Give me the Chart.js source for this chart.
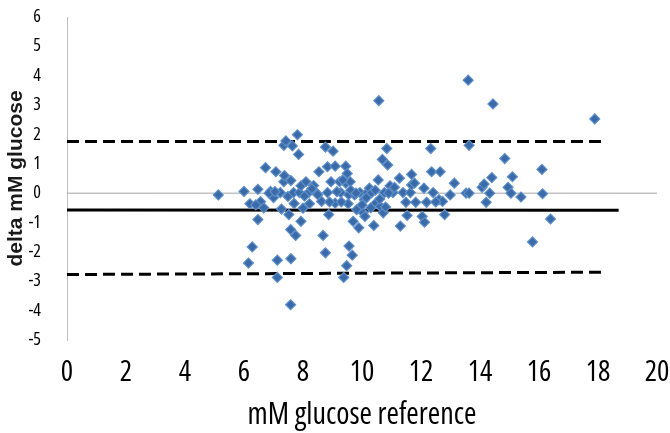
<!DOCTYPE html>
<html>
<head>
<meta charset="utf-8">
<script src="https://cdn.jsdelivr.net/npm/chart.js@4"></script>
<style>
  html, body { margin: 0; padding: 0; background: #fff; }
  #wrap { width: 670px; height: 433px; }
</style>
</head>
<body>
<div id="wrap"><canvas id="c" width="670" height="433"></canvas></div>
<script>
// Reference glucose (mM) and delta (mM)
const refGlucose = [5.13,6.0,6.15,6.28,6.2,6.47,6.47,6.56,6.67,6.73,6.9,7.0,7.08,7.13,7.13,7.23,7.27,7.35,7.37,7.35,7.42,7.49,7.52,7.58,7.59,7.59,7.58,7.64,7.68,7.75,7.81,7.85,7.88,7.93,7.93,8.0,8.1,8.19,8.22,8.36,8.44,8.54,8.63,8.68,8.76,8.76,8.83,8.83,8.87,8.95,9.02,9.09,9.09,9.24,9.28,9.38,9.45,9.45,9.48,9.5,9.53,9.56,9.6,9.67,9.7,9.75,9.82,9.89,9.93,10.04,10.08,10.1,10.18,10.25,10.33,10.4,10.47,10.55,10.57,10.62,10.69,10.72,10.76,10.8,10.84,10.87,10.95,11.05,11.27,11.3,11.39,11.49,11.53,11.64,11.68,11.68,11.78,11.82,12.04,12.1,12.12,12.19,12.33,12.36,12.41,12.61,12.65,12.73,12.8,12.99,13.13,13.53,13.6,13.63,13.63,14.07,14.14,14.21,14.33,14.4,14.44,14.84,14.95,15.05,15.1,15.39,15.78,16.1,16.12,16.39,17.89,
  6.4,6.85,7.05,7.7,8.05,8.3,8.5,8.9,9.15,9.3,9.35,9.55,9.62,9.8,10.0,10.15,10.3,10.45,10.6,10.9,11.1,12.5];
const deltaGlucose = [-0.06,0.06,-2.38,-1.83,-0.36,0.13,-0.9,-0.29,-0.5,0.87,0.06,-0.15,0.73,-2.28,-2.87,0.02,-0.54,0.39,0.6,1.63,1.78,-0.11,-0.73,-1.24,0.43,-2.23,-3.8,1.61,0.02,-1.44,1.99,1.32,0.02,-0.96,0.25,-0.51,0.39,0.02,-0.36,0.26,0.02,0.73,-0.28,-1.44,-2.03,1.57,0.9,0.02,-0.73,0.39,1.43,0.92,-0.34,0.39,0.02,-2.87,0.92,0.34,-2.47,0.67,-0.36,-1.8,0.39,-2.11,-0.96,-0.06,-0.56,-1.18,0.02,-0.67,-0.22,-0.79,0.02,0.17,0.02,-1.1,-0.34,0.45,3.15,-0.45,1.15,-0.67,0.02,-0.47,1.52,0.96,0.25,0.02,0.51,-1.12,0.02,-0.31,-0.76,0.02,0.28,0.64,0.34,-0.31,-0.79,0.17,-0.99,-0.31,1.52,0.73,0.02,-0.22,0.73,-0.28,-0.73,-0.06,0.34,0.0,3.85,1.63,0.0,0.2,0.31,-0.31,0.0,0.53,3.04,1.18,0.2,0.0,0.56,-0.13,-1.66,0.81,-0.02,-0.88,2.53,
  -0.4,0.0,0.05,-0.35,-0.1,0.15,-0.05,-0.3,0.05,-0.3,0.45,-0.05,0.1,0.0,-0.4,-0.15,-0.5,0.1,-0.2,0.0,0.2,-0.3];

// Limit / mean lines
const zeroLineX = [0, 20];
const zeroLineY = [0, 0];
const upperLimitX = [0, 18.1];
const upperLimitY = [1.76, 1.76];
const meanLineX = [0, 18.7];
const meanLineY = [-0.57, -0.58];
const lowerLimitX = [0, 18.1];
const lowerLimitY = [-2.77, -2.69];

// Axis ticks
const xTicks = [0, 2, 4, 6, 8, 10, 12, 14, 16, 18, 20];
const yTicks = [-5, -4, -3, -2, -1, 0, 1, 2, 3, 4, 5, 6];

const pairs = (xs, ys) => xs.map((x, i) => ({ x: x, y: ys[i] }));

const lineStyle = {
  showLine: true, pointRadius: 0, pointHoverRadius: 0, fill: false, order: 1
};
const condFamily = '"Open Sans", sans-serif';

new Chart(document.getElementById('c'), {
  type: 'scatter',
  data: {
    datasets: [
      { label: 'delta', data: pairs(refGlucose, deltaGlucose), pointStyle: 'rectRot',
        pointRadius: 5, backgroundColor: '#3A6BA8', borderColor: '#5E8FC9', borderWidth: 1.2, order: 0 },
      Object.assign({ label: 'zero', data: pairs(zeroLineX, zeroLineY), borderColor: '#A6A6A6', borderWidth: 1 }, lineStyle),
      Object.assign({ label: 'upper', data: pairs(upperLimitX, upperLimitY), borderColor: '#000', borderWidth: 3, borderDash: [12, 6] }, lineStyle),
      Object.assign({ label: 'mean', data: pairs(meanLineX, meanLineY), borderColor: '#000', borderWidth: 3 }, lineStyle),
      Object.assign({ label: 'lower', data: pairs(lowerLimitX, lowerLimitY), borderColor: '#000', borderWidth: 3, borderDash: [12, 6] }, lineStyle)
    ]
  },
  options: {
    responsive: false,
    animation: false,
    layout: { padding: { top: 17, right: 13, left: 0, bottom: 0 } },
    plugins: { legend: { display: false }, tooltip: { enabled: false } },
    scales: {
      x: {
        type: 'linear', min: 0, max: 20,
        afterBuildTicks: s => { s.ticks = xTicks.map(v => ({ value: v })); },
        afterFit: s => { s.height = 93; s.paddingLeft = 0; s.paddingRight = 0; },
        grid: { display: false, drawTicks: false },
        border: { display: false },
        ticks: { padding: 15, color: '#000', font: { family: condFamily, size: 29, weight: 'condensed' } },
        title: { display: true, text: 'mM glucose reference', color: '#000', padding: { top: 0, bottom: 0 },
          font: { family: condFamily, size: 30, weight: 'condensed' } }
      },
      y: {
        type: 'linear', min: -5, max: 6,
        afterBuildTicks: s => { s.ticks = yTicks.map(v => ({ value: v })); },
        afterFit: s => { s.width = 67; s.paddingTop = 0; s.paddingBottom = 0; },
        grid: { display: false, drawTicks: false },
        border: { display: true, color: '#BFBFBF', width: 1 },
        ticks: { padding: 26, color: '#000', font: { family: condFamily, size: 18, weight: 'condensed' } },
        title: { display: true, text: 'delta mM glucose', color: '#1a1a1a', padding: { top: 4, bottom: 0 },
          font: { family: '"Liberation Sans", Arial, sans-serif', size: 21, weight: 'bold' } }
      }
    }
  }
});
</script>
</body>
</html>
